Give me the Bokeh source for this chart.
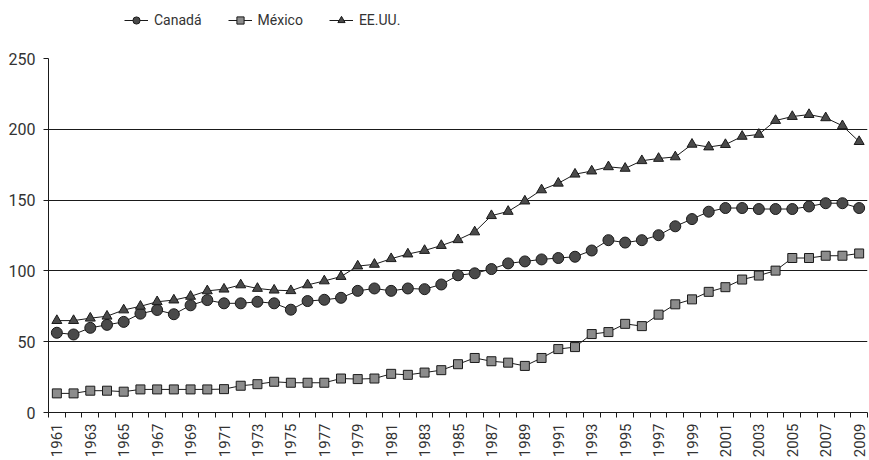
import math
from bokeh.plotting import figure
from bokeh.layouts import column
from bokeh.models import Range1d, FixedTicker, Legend, LegendItem
from bokeh.embed import file_html
from bokeh.resources import INLINE

years = list(range(1961, 2010))
canada = [56.3, 55.1, 59.8, 61.9, 64.0, 69.8, 72.4, 69.4, 75.7, 79.4,
          77.1, 77.1, 78.2, 77.1, 72.6, 78.7, 79.6, 81.0, 85.9, 87.6,
          85.9, 87.6, 87.1, 90.4, 96.9, 98.3, 101.3, 105.3, 106.7, 108.1,
          109.1, 110.0, 114.4, 121.7, 120.0, 121.7, 125.2, 131.5, 136.6, 141.8,
          144.4, 144.4, 143.7, 143.7, 143.7, 145.5, 147.8, 147.8, 144.4]
mexico = [13.5, 13.5, 15.4, 15.4, 14.7, 16.3, 16.3, 16.3, 16.3, 16.3,
          16.5, 18.9, 20.0, 21.7, 21.0, 21.0, 21.0, 24.0, 23.6, 24.0,
          27.3, 26.6, 28.2, 29.9, 34.1, 38.5, 36.2, 35.2, 32.9, 38.5,
          44.8, 46.2, 55.4, 56.8, 62.6, 61.0, 69.1, 76.4, 79.9, 85.2,
          88.5, 93.9, 96.7, 100.2, 109.1, 109.1, 110.7, 110.7, 112.3]
eeuu = [64.9, 64.9, 66.6, 68.0, 72.4, 75.0, 78.2, 79.4, 82.0, 85.9,
        87.1, 90.1, 87.6, 86.4, 86.0, 90.1, 92.9, 96.0, 103.4, 104.6,
        108.6, 111.9, 114.4, 117.9, 122.0, 127.5, 139.0, 142.0, 149.3, 157.2,
        161.9, 168.3, 170.5, 173.5, 172.4, 177.8, 179.4, 180.5, 189.4, 187.5,
        189.2, 195.0, 196.4, 206.2, 209.0, 210.4, 208.1, 202.5, 191.3]
series_names = ["Canadá", "México", "EE.UU."]
y_ticks = [0, 50, 100, 150, 200, 250]
label_years = years[::2]

FONT = "Roboto"
INK = "#1a1a1a"
TXT = "#333333"
styles = [dict(marker="circle", size=11, fill_color="#4a4a4a"),
          dict(marker="square", size=9, fill_color="#8c8c8c"),
          dict(marker="triangle", size=10, fill_color="#4a4a4a")]

p = figure(width=869, height=420, output_backend="svg", toolbar_location=None,
           x_range=Range1d(years[0] - 0.5, years[-1] + 0.5),
           y_range=Range1d(0, 250),
           min_border_left=48, min_border_top=18, min_border_right=2,
           min_border_bottom=46)
p.outline_line_color = None
p.background_fill_color = "white"

# axes
p.xaxis.ticker = FixedTicker(ticks=label_years,
                             minor_ticks=[y - 0.5 for y in years] + [years[-1] + 0.5])
p.xaxis.major_tick_out = 0
p.xaxis.major_tick_in = 0
p.xaxis.minor_tick_out = 5
p.xaxis.minor_tick_in = 0
p.xaxis.minor_tick_line_color = INK
p.xaxis.axis_line_color = INK
p.xaxis.major_label_orientation = math.pi / 2
p.xaxis.major_label_standoff = 6
p.xaxis.major_label_text_font = FONT
p.xaxis.major_label_text_font_size = "15px"
p.xaxis.major_label_text_color = TXT

p.yaxis.ticker = FixedTicker(ticks=y_ticks)
p.yaxis.minor_tick_line_color = None
p.yaxis.major_tick_out = 5
p.yaxis.major_tick_in = 0
p.yaxis.major_tick_line_color = INK
p.yaxis.axis_line_color = INK
p.yaxis.major_label_standoff = 8
p.yaxis.major_label_text_font = FONT
p.yaxis.major_label_text_font_size = "16px"
p.yaxis.major_label_text_color = TXT

p.xgrid.visible = False
p.ygrid.ticker = FixedTicker(ticks=y_ticks[1:])
p.ygrid.grid_line_color = INK
p.ygrid.grid_line_width = 1

# series
for vals, st in zip([canada, mexico, eeuu], styles):
    p.line(years, vals, line_color=INK, line_width=1)
    p.scatter(years, vals, line_color=INK, line_width=1, **st)

# legend strip (separate figure above the chart); its sample glyphs sit
# outside the visible range so only the legend shows them
lg = figure(width=869, height=40, output_backend="svg", toolbar_location=None,
            x_range=Range1d(0, 1), y_range=Range1d(0, 1),
            x_axis_location=None, y_axis_location=None,
            min_border_left=0, min_border_right=0, min_border_top=0,
            min_border_bottom=0)
lg.outline_line_color = None
lg.xgrid.visible = False
lg.ygrid.visible = False
items = []
for name, st in zip(series_names, styles):
    r1 = lg.line([5, 6], [5, 6], line_color=INK, line_width=1)
    r2 = lg.scatter([5], [5], line_color=INK, line_width=1, **st)
    items.append(LegendItem(label=name, renderers=[r1, r2]))
legend = Legend(items=items, orientation="horizontal", location=(76, 11),
                glyph_width=24, glyph_height=18, label_standoff=6, spacing=26,
                padding=0, margin=0, border_line_color=None,
                background_fill_alpha=0,
                label_text_font=FONT, label_text_font_size="14px",
                label_text_color=TXT)
lg.add_layout(legend, "center")

open("out.html", "w").write(file_html(column(lg, p, spacing=0), INLINE))
